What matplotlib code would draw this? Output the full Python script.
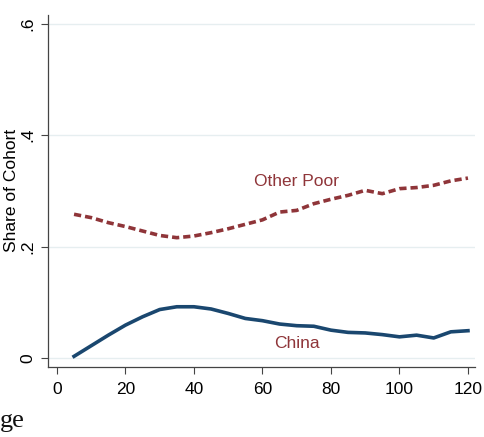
import numpy as np
import matplotlib.pyplot as plt

# Share of cohort by age
age_china = [5, 10, 15, 20, 25, 30, 35, 40, 45, 50, 55, 60, 65, 70, 75, 80, 85, 90, 95, 100, 105, 110, 115, 120]
china = [0.003, 0.022, 0.041, 0.059, 0.074, 0.087, 0.092, 0.092, 0.088, 0.080, 0.071, 0.067, 0.061, 0.058, 0.057, 0.050, 0.046, 0.045, 0.042, 0.038, 0.041, 0.036, 0.047, 0.049]

age_poor = [5, 10, 15, 20, 25, 30, 35, 40, 45, 50, 55, 60, 65, 70, 75, 80, 85, 90, 95, 100, 105, 110, 115, 120]
other_poor = [0.258, 0.252, 0.243, 0.236, 0.228, 0.220, 0.216, 0.219, 0.225, 0.232, 0.240, 0.248, 0.262, 0.265, 0.277, 0.285, 0.292, 0.301, 0.295, 0.304, 0.306, 0.310, 0.318, 0.323]

yticks = [0, 0.2, 0.4, 0.6]
ytick_labels = ["0", ".2", ".4", ".6"]
xticks = [0, 20, 40, 60, 80, 100, 120]

navy = "#1a476f"
maroon = "#8f3539"

plt.rcParams['font.family'] = ['Liberation Sans', 'DejaVu Sans']

fig = plt.figure(figsize=(4.85, 4.37), dpi=100)
ax = fig.add_axes([0.099, 0.161, 0.880, 0.805])

ax.plot(age_poor, other_poor, color=maroon, lw=2.6, linestyle=(0, (2.0, 1.1)), solid_capstyle='butt')
ax.plot(age_china, china, color=navy, lw=2.6, solid_joinstyle='round')

ax.text(70, 0.316, "Other Poor", color=maroon, fontsize=12.5, ha='center', va='center')
ax.text(70, 0.026, "China", color=maroon, fontsize=12.5, ha='center', va='center')

ax.set_xlim(-2.6, 122)
ax.set_ylim(-0.0155, 0.616)
ax.set_xticks(xticks)
ax.set_yticks(yticks)
ax.set_yticklabels(ytick_labels, rotation=90, va='center')
ax.tick_params(labelsize=12.5, length=5, color='#444444', width=0.8)
ax.tick_params(axis='x', pad=6)
ax.tick_params(axis='y', pad=4)
ax.set_ylabel("Share of Cohort", fontsize=12.5, labelpad=1)

ax.grid(axis='y', color='#e6eef0', lw=1.0)
ax.set_axisbelow(True)
for side in ['top', 'right']:
    ax.spines[side].set_visible(False)
for side in ['left', 'bottom']:
    ax.spines[side].set_color('#444444')
    ax.spines[side].set_linewidth(0.9)

fig.text(0.0, 0.023, "ge", family='Liberation Serif', fontsize=19, color='#111111')

fig.savefig("out.png", dpi=100)
